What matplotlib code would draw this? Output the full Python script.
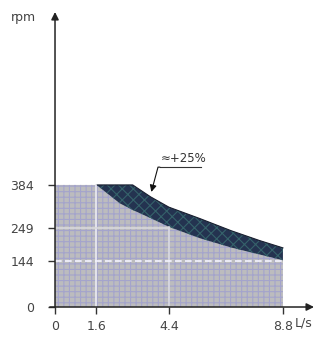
import numpy as np
import matplotlib.pyplot as plt

# flow (L/s) and speed (rpm)
flow = [0, 1.6, 2.5, 3.0, 3.7, 4.4, 5.6, 6.8, 7.9, 8.8]
rpm_base = [384, 384, 326, 305, 279, 252, 216, 187, 165, 147]
rpm_plus = [384, 384, 384, 384, 346, 314, 278, 240, 209, 186]

xticks = [0, 1.6, 4.4, 8.8]
xtick_labels = ["0", "1.6", "4.4", "8.8"]
yticks = [0, 144, 249, 384]
ytick_labels = ["0", "144", "249", "384"]

fig = plt.figure(figsize=(3.31, 3.37), dpi=100)
ax = fig.add_axes([0.1662, 0.089, 0.7825, 0.8754])

plt.rcParams['hatch.linewidth'] = 0.8
ax.fill_between(flow, 0, rpm_base, facecolor='#bcbcbe', edgecolor='#a4a4cc',
                hatch='+++', linewidth=0)
ax.fill_between(flow, rpm_base, rpm_plus, facecolor='#243350', edgecolor='#35626a',
                hatch='xxx', linewidth=0)
ax.plot(flow[1:], rpm_plus[1:], color='#1a2030', lw=0.8)

# light drop lines inside the area
ax.plot([1.6, 1.6], [0, 384], color='#ececf4', lw=1.2)
ax.plot([4.4, 4.4], [0, 252], color='#dcdce4', lw=1.2)
ax.plot([0, 4.4], [249, 249], color='#d8d8dc', lw=1.2)
ax.plot([0, 8.8], [144, 144], color='#f4f4ff', lw=1.2, ls=(0, (4, 2)))

ax.set_xlim(0, 10.0)
ax.set_ylim(0, 928)
for s in ax.spines.values():
    s.set_visible(False)

ax.set_xticks(xticks)
ax.set_xticklabels(xtick_labels)
ax.set_yticks(yticks)
ax.set_yticklabels(ytick_labels)
ax.tick_params(length=5, width=1, color='#333333', labelsize=9, labelcolor='#444444')
ax.tick_params(axis='y', pad=10)
ax.tick_params(axis='x', pad=4)

# axes with arrow heads
arrow = dict(arrowstyle='-|>', color='#222222', lw=1.1, mutation_scale=11,
             shrinkA=0, shrinkB=0)
ax.annotate('', xy=(0, 1), xytext=(0, 0), xycoords='axes fraction', arrowprops=arrow)
ax.annotate('', xy=(1, 0), xytext=(-0.02, 0), xycoords='axes fraction', arrowprops=arrow)

fig.text(23 / 331, 1 - 17 / 337, 'rpm', fontsize=9, color='#444444', ha='center', va='center')
fig.text(295 / 331, 1 - 323 / 337, 'L/s', fontsize=9, color='#444444', ha='left', va='center')

# +25% callout
ax.plot([4.05, 5.65], [440, 440], color='#333333', lw=0.8)
ax.annotate('', xy=(3.72, 362), xytext=(4.05, 440),
            arrowprops=dict(arrowstyle='-|>', color='#111111', lw=0.8,
                            mutation_scale=10, shrinkA=0, shrinkB=0,
                            connectionstyle='angle,angleA=180,angleB=75,rad=0'))
ax.text(4.1, 447, '≈+25%', fontsize=8.5, color='#333333', ha='left', va='bottom')

plt.savefig('out.png', format='png')
